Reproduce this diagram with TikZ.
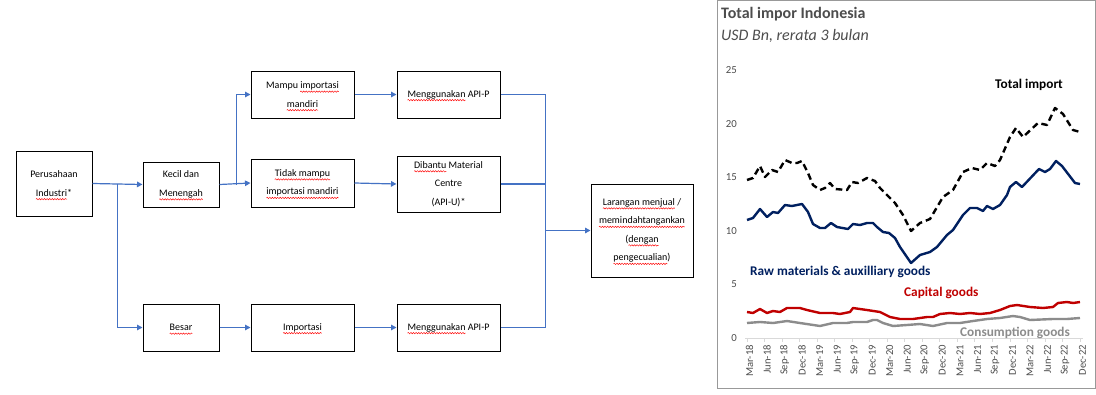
\documentclass[tikz,border=0pt]{standalone}
\usepackage{fontspec}
\setmainfont{Carlito}
\usetikzlibrary{arrows.meta,decorations.pathmorphing}
\newlength\sqlen
\newcommand\sq[1]{\leavevmode\setbox0=\hbox{#1}\setlength\sqlen{\wd0}\copy0\llap{\tikz[overlay,baseline=0pt,x=1pt,y=1pt]\draw[red, line width=0.45pt, decorate, decoration={snake, amplitude=0.7pt, segment length=2.6pt}] (-\sqlen,-3) -- (0,-3);}}
\definecolor{flowblue}{HTML}{4472C4}
\definecolor{navyline}{HTML}{002060}
\definecolor{redline}{HTML}{C00000}
\definecolor{greyline}{HTML}{8C8C8C}
\definecolor{txtgrey}{HTML}{4D4D4D}
\definecolor{axisgrey}{HTML}{D9D9D9}
\tikzset{
  box/.style={draw=black, line width=1pt, inner sep=1pt, align=center,
    font=\fontsize{10}{18.5}\selectfont},
  flow/.style={draw=flowblue, line width=1.2pt},
  flowarr/.style={flow, -{Triangle[length=5.5pt,width=5.5pt]}},
  series/.style={line width=2.4pt, line join=round},
  ylab/.style={anchor=east, text=txtgrey, font=\fontsize{10.8}{12}\selectfont, inner sep=0pt},
  xlab/.style={anchor=east, rotate=90, text=txtgrey, font=\fontsize{10.6}{12}\selectfont, inner sep=0pt},
  annot/.style={anchor=west, inner sep=0pt, font=\fontsize{13.3}{15}\selectfont\bfseries}
}
\begin{document}
\begin{tikzpicture}[x=1pt,y=-1pt]
\useasboundingbox (0,0) rectangle (1096,394);
\fill[white] (0,0) rectangle (1096,394);

% ---------- flowchart ----------
\node[box, minimum width=76pt, minimum height=65pt] (per) at (54,183.5) {Perusahaan\\ \sq{Industri}*};
\node[box, minimum width=76pt, minimum height=45pt] (kecil) at (181,184.5) {Kecil dan\\ \sq{Menengah}};
\node[box, minimum width=76pt, minimum height=47pt] (besar) at (181,327.5) {\sq{Besar}};
\node[box, minimum width=103pt, minimum height=47pt] (mampu) at (302.5,94.5) {Mampu \sq{importasi}\\ \sq{mandiri}};
\node[box, minimum width=103pt, minimum height=48pt] (tidak) at (302.5,183) {\sq{Tidak mampu}\\ \sq{importasi mandiri}};
\node[box, minimum width=103pt, minimum height=47pt] (imp) at (302.5,327.5) {\sq{Importasi}};
\node[box, minimum width=103pt, minimum height=47pt] (api1) at (448.5,94.5) {\sq{Menggunakan} API-P};
\node[box, minimum width=103pt, minimum height=56pt] (dib) at (448.5,184) {\sq{Dibantu} Material\\ Centre\\ (API-U)*};
\node[box, minimum width=103pt, minimum height=47pt] (api2) at (448.5,327.5) {\sq{Menggunakan} API-P};
\node[box, minimum width=102pt, minimum height=93pt] (lar) at (642,230.5) {\sq{Larangan menjual} /\\ \sq{memindahtangankan}\\ (\sq{dengan}\\ \sq{pengecualian})};

\coordinate (s1) at ([xshift=25pt]per.east);
\coordinate (s2) at ([xshift=17pt]kecil.east);
\coordinate (m) at ([xshift=45pt]api1.east);

\draw[flowarr] (per.east) -- (kecil.west);
\draw[flowarr] (s1) |- (besar.west);
\draw[flowarr] (kecil.east) -- (tidak.west);
\draw[flowarr] (s2) |- (mampu.west);
\draw[flowarr] (mampu.east) -- (api1.west);
\draw[flowarr] (tidak.east) -- (dib.west);
\draw[flowarr] (besar.east) -- (imp.west);
\draw[flowarr] (imp.east) -- (api2.west);
\draw[flow] (api1.east) -- (m) |- (api2.east);
\draw[flow] (dib.east) -- (dib.east -| m);
\draw[flowarr, line width=1.8pt] (lar.west -| m) -- (lar.west);

% ---------- chart ----------
\draw[draw=gray!80, line width=1pt] (717,0.5) rectangle (1095,388);
\node[anchor=west, inner sep=0pt, text=txtgrey, font=\fontsize{16}{18}\selectfont\bfseries] (title) at (721,14) {Total impor Indonesia};
\node[anchor=west, inner sep=0pt, text=txtgrey, font=\fontsize{16}{18}\selectfont\itshape] (sub) at (721,36) {USD Bn, rerata 3 bulan};

\foreach \v/\yy in {0/338,5/284.5,10/231,15/177.5,20/124,25/70.5}
  \node[ylab] at (737,\yy) {\v};

\draw[draw=axisgrey, line width=0.8pt] (745,338) -- (1083,338);
\foreach \lab [count=\i from 0] in {Mar-18,Jun-18,Sep-18,Dec-18,Mar-19,Jun-19,Sep-19,Dec-19,Mar-20,Jun-20,Sep-20,Dec-20,Mar-21,Jun-21,Sep-21,Dec-21,Mar-22,Jun-22,Sep-22,Dec-22}{
  \pgfmathsetmacro\xx{747+17.53*\i}
  \draw[draw=axisgrey, line width=0.8pt] (\xx,338) -- (\xx,342);
  \node[xlab] at (\xx+2.5,345) {\lab};
}

% consumption goods
\draw[series, draw=greyline] plot coordinates {(747,323)(760,322)(773,323)(787,321)(800,323)(820,326)(833,323)(847,323)(853,322)(867,322)(873,320)(877,320)(883,323)(893,326)(907,325)(920,324)(933,326)(947,323)(960,323)(973,321)(987,319)(1000,318)(1013,316)(1020,317)(1030,320)(1053,319)(1067,319)(1080,318)};
% capital goods
\draw[series, draw=redline] plot coordinates {(747,312)(753,313)(760,309)(767,313)(773,311)(780,312)(787,308)(800,308)(807,310)(820,313)(833,313)(840,314)(850,312)(853,308)(867,310)(880,312)(890,317)(900,319)(913,319)(927,317)(933,317)(940,314)(950,313)(960,314)(970,313)(980,314)(990,313)(1000,310)(1010,306)(1017,305)(1030,307)(1043,308)(1053,307)(1058,303)(1067,302)(1073,303)(1080,302)};
% raw materials
\draw[series, draw=navyline] plot coordinates {(747,220)(753,218)(760,209)(767,217)(773,212)(778,213)(785,205)(792,206)(802,204)(808,212)(813,224)(820,228)(825,228)(831,223)(837,227)(848,229)(853,224)(860,225)(867,223)(873,223)(877,227)(883,232)(889,233)(895,238)(900,247)(911,263)(920,255)(930,252)(937,247)(947,235)(953,230)(963,215)(970,208)(977,208)(983,211)(987,206)(993,209)(1000,205)(1007,195)(1010,187)(1016,182)(1022,187)(1039,169)(1045,172)(1050,169)(1056,161)(1062,166)(1075,183)(1080,184)};
% total import
\draw[series, draw=black, dash pattern=on 6.5pt off 4pt] plot coordinates {(747,180)(753,178)(760,166)(765,177)(772,170)(778,172)(785,160)(792,163)(797,163)(802,161)(808,173)(813,185)(820,190)(825,188)(830,183)(835,189)(847,190)(852,182)(858,183)(867,178)(875,181)(880,188)(887,195)(895,203)(903,215)(911,231)(920,223)(930,219)(943,197)(953,190)(963,172)(972,168)(980,170)(987,163)(995,166)(1000,160)(1010,137)(1016,128)(1023,137)(1038,123)(1047,125)(1055,108)(1063,114)(1073,130)(1080,132)};

\node[annot, text=black] (tot) at (995,85) {Total import};
\node[annot, text=navyline] (raw) at (750,272) {Raw materials \& auxilliary goods};
\node[annot, text=redline] (cap) at (904,293) {Capital goods};
\node[annot, text=greyline] (con) at (960,333) {Consumption goods};
\end{tikzpicture}
\end{document}
